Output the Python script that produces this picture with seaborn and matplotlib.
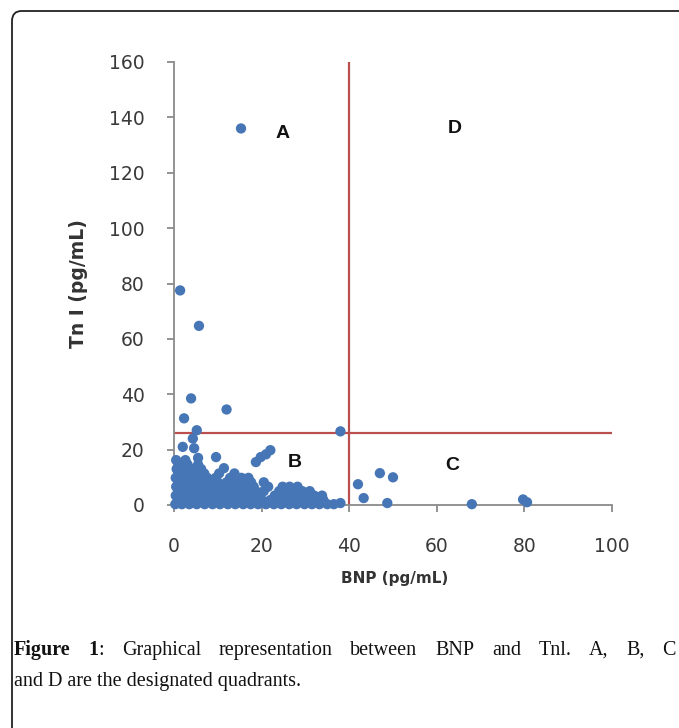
import matplotlib
matplotlib.use("Agg")
import matplotlib.pyplot as plt
from matplotlib.patches import FancyBboxPatch
import seaborn as sns
import pandas as pd

# ---------------- data ----------------
sparse_bnp = [15.3, 1.4, 5.7, 3.9, 12.0, 2.3, 5.2, 38.0, 4.3, 2.0, 4.6, 22.0, 21.0, 19.8,
              18.7, 9.6, 11.4, 5.5, 47.0, 50.0, 42.0, 43.3, 48.7, 68.0, 79.7, 80.6, 38.0]
sparse_tni = [136.0, 77.5, 64.7, 38.5, 34.5, 31.3, 27.0, 26.6, 24.0, 21.0, 20.5, 19.8, 18.3, 17.3,
              15.5, 17.3, 13.3, 17.0, 11.5, 10.0, 7.5, 2.5, 0.7, 0.3, 2.0, 1.0, 0.7]

dense_bnp = [0.3, 1.8, 3.5, 5.2, 7.0, 8.8, 10.5, 12.3, 14.0, 15.8, 17.5, 19.2, 21.0, 22.8, 24.5, 26.3, 28.0, 29.8, 31.5, 33.2, 35.0, 36.5,
             1.0, 2.7, 4.4, 6.1, 7.9, 9.6, 11.4, 13.1, 14.9, 16.6, 18.4, 20.1, 22.0, 23.6, 25.4, 27.1, 28.9, 30.6, 32.4, 34.1,
             0.4, 2.1, 3.8, 5.6, 7.3, 9.1, 10.8, 12.6, 14.3, 16.1, 17.8, 19.6, 23.0, 24.8, 26.6, 28.4, 30.2, 32.0, 33.8,
             1.2, 2.9, 4.7, 6.4, 8.2, 9.9, 11.7, 13.4, 15.2, 17.0, 18.7, 20.5, 24.0, 25.6, 27.5, 29.3, 31.0,
             0.5, 2.3, 4.0, 5.8, 7.5, 9.3, 11.0, 12.8, 14.5, 16.3, 18.2, 21.5, 26.4, 28.2, 24.8,
             1.3, 3.0, 4.8, 6.5, 8.3, 10.0, 12.0, 14.0, 16.0, 17.6, 20.5,
             0.4, 2.2, 3.9, 5.7, 7.6, 9.5, 12.8, 15.4, 17.0,
             1.1, 2.9, 4.8, 6.9, 10.3, 13.8,
             0.6, 2.3, 4.0, 6.2,
             1.2, 3.1, 5.5,
             0.5, 2.6]
dense_tni = [0.3] * 22 + [1.8] * 20 + [3.4] * 19 + [5.0] * 17 + [6.6] * 15 + [8.2] * 11 + \
            [9.8] * 9 + [11.4] * 6 + [13.0] * 4 + [14.6] * 3 + [16.2] * 2

bnp_cutoff = 40
tni_cutoff = 26

quadrant_labels = ["A", "B", "C", "D"]
quadrant_x = [24.7, 27.6, 63.5, 64.2]
quadrant_y = [134.3, 15.2, 14.4, 136.0]

x_ticks = [0, 20, 40, 60, 80, 100]
y_ticks = [0, 20, 40, 60, 80, 100, 120, 140, 160]

# ---------------- figure ----------------
sns.set_theme(style="white")
plt.rcParams['font.family'] = ['DejaVu Sans']

W, H = 679, 728
fig = plt.figure(figsize=(W / 100, H / 100), dpi=100)
fig.patch.set_facecolor("white")

# rounded outer frame
frame = FancyBboxPatch((12 / W, -0.05), 1.2, (717 / H) + 0.05,
                       boxstyle="round,pad=0,rounding_size=0.014",
                       transform=fig.transFigure, fill=False,
                       edgecolor="#222222", linewidth=1.3, clip_on=False)
fig.patches.append(frame)

ax = fig.add_axes([174 / W, (H - 505) / H, 438 / W, (505 - 62) / H])

df = pd.DataFrame({"BNP": sparse_bnp + dense_bnp, "TnI": sparse_tni + dense_tni})
sns.scatterplot(data=df, x="BNP", y="TnI", ax=ax, s=55, color="#4676B5",
                edgecolor="none", linewidth=0, clip_on=False, zorder=3)

ax.axvline(bnp_cutoff, color="#BA4F4D", linewidth=1.6, zorder=2)
ax.axhline(tni_cutoff, color="#BA4F4D", linewidth=1.6, zorder=2)

for lab, qx, qy in zip(quadrant_labels, quadrant_x, quadrant_y):
    ax.text(qx, qy, lab, ha="center", va="center", fontsize=14, fontweight="bold",
            family="Liberation Sans", color="#111111")

ax.set_xlim(0, 100)
ax.set_ylim(0, 160)
ax.set_xticks(x_ticks)
ax.set_yticks(y_ticks)
ax.set_xticklabels([str(t) for t in x_ticks])
ax.set_yticklabels([str(t) for t in y_ticks])

for s in ["top", "right"]:
    ax.spines[s].set_visible(False)
for s in ["left", "bottom"]:
    ax.spines[s].set_color("#8A8A8A")
    ax.spines[s].set_linewidth(1.3)

ax.tick_params(axis="x", direction="out", length=5, width=1.3, color="#8A8A8A",
               labelsize=13.5, labelcolor="#3A3A3A", pad=18)
ax.tick_params(axis="y", direction="out", length=5, width=1.3, color="#8A8A8A",
               labelsize=13.5, labelcolor="#3A3A3A", pad=16)
ax.tick_params(bottom=True, left=True)

ax.set_xlabel("BNP (pg/mL)", fontsize=11, fontweight="bold", color="#333333")
ax.set_ylabel("Tn I (pg/mL)", fontsize=13.5, fontweight="bold", color="#333333")
ax.xaxis.label.set_va("center")
ax.yaxis.label.set_va("center")
ax.xaxis.set_label_coords((395 - 174) / 438, (505 - 578) / 443)
ax.yaxis.set_label_coords((79 - 174) / 438, (505 - 284) / 443)

# ---------------- caption (justified first line) ----------------
renderer = fig.canvas.get_renderer()
serif = "Liberation Serif"
y1 = (H - 655) / H
y2 = (H - 686) / H
fs = 14.5

fig.text(14 / W, y2, "and D are the designated quadrants.", family=serif, fontsize=fs,
         va="baseline", ha="left", color="#111111")

words = [[("Figure", "bold")], [("1", "bold"), (":", "normal")], [("Graphical", "normal")],
         [("representation", "normal")], [("between", "normal")], [("BNP", "normal")],
         [("and", "normal")], [("Tnl.", "normal")], [("A,", "normal")], [("B,", "normal")],
         [("C", "normal")]]

run_widths = []
for wd in words:
    rw = []
    for txt, wt in wd:
        t = fig.text(0, 0, txt, family=serif, fontsize=fs, fontweight=wt)
        rw.append(t.get_window_extent(renderer).width)
        t.remove()
    run_widths.append(rw)

left, right = 14, 676
total = sum(sum(rw) for rw in run_widths)
gap = (right - left - total) / (len(words) - 1)
xpos = left
for wd, rw in zip(words, run_widths):
    xx = xpos
    for (txt, wt), wdt in zip(wd, rw):
        fig.text(xx / W, y1, txt, family=serif, fontsize=fs, fontweight=wt,
                 va="baseline", ha="left", color="#111111")
        xx += wdt
    xpos += sum(rw) + gap

fig.savefig("out.png", dpi=100, facecolor="white")
